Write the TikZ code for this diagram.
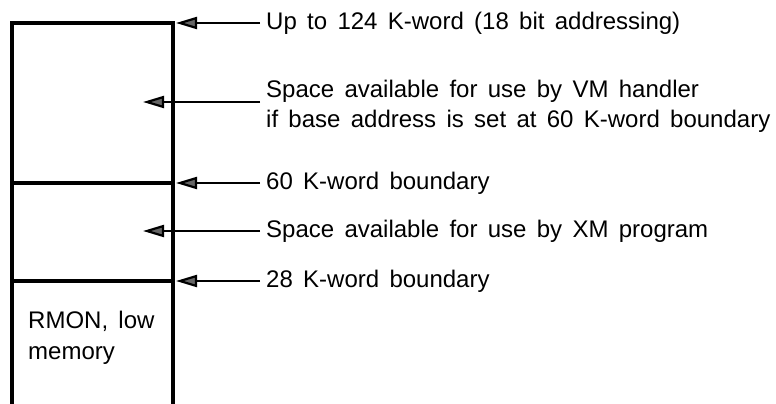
\documentclass[tikz,border=0pt]{standalone}
\usepackage{fontspec}
\setmainfont{Liberation Sans}
\usetikzlibrary{arrows.meta}
\newcommand\mylblfont{\fontsize{24}{30}\selectfont\spaceskip=0.43em plus 0.1em\relax}
\newcommand\myboxfont{\fontsize{24}{31}\selectfont\spaceskip=0.43em plus 0.1em\relax}
\tikzset{
  wall/.style={line width=3.4pt, line cap=rect},
  lbl/.style={anchor=west, inner xsep=6pt, inner ysep=0pt, align=left, font=\mylblfont},
  pointer/.style={line width=2.2pt, -{Triangle[length=21pt,width=12pt,fill=black!60]}}
}
\begin{document}
\begin{tikzpicture}[x=1pt,y=-1pt]
\useasboundingbox (0,0) rectangle (776,404);
% memory column
\draw[wall] (12,404) -- (12,23) -- (173,23) -- (173,404);
\draw[wall] (12,183) -- (173,183);
\draw[wall] (12,281) -- (173,281);
\node[lbl, font=\myboxfont] (rmon) at (22,338) {RMON, low\\memory};
% labels
\node[lbl] (t1) at (260,23) {Up to 124 K-word (18 bit addressing)};
\node[lbl] (t2) at (260,106) {Space available for use by VM handler\\if base address is set at 60 K-word boundary};
\node[lbl] (t3) at (260,183) {60 K-word boundary};
\node[lbl] (t4) at (260,231) {Space available for use by XM program};
\node[lbl] (t5) at (260,281) {28 K-word boundary};
% arrow ends
\coordinate (e1) at (176,23);
\coordinate (e2) at (143,102);
\coordinate (e3) at (176,183);
\coordinate (e4) at (143,231);
\coordinate (e5) at (176,281);
\draw[pointer] (t1.west) -- (e1);
\draw[pointer] (t2.west |- e2) -- (e2);
\draw[pointer] (t3.west) -- (e3);
\draw[pointer] (t4.west) -- (e4);
\draw[pointer] (t5.west) -- (e5);
\end{tikzpicture}
\end{document}
